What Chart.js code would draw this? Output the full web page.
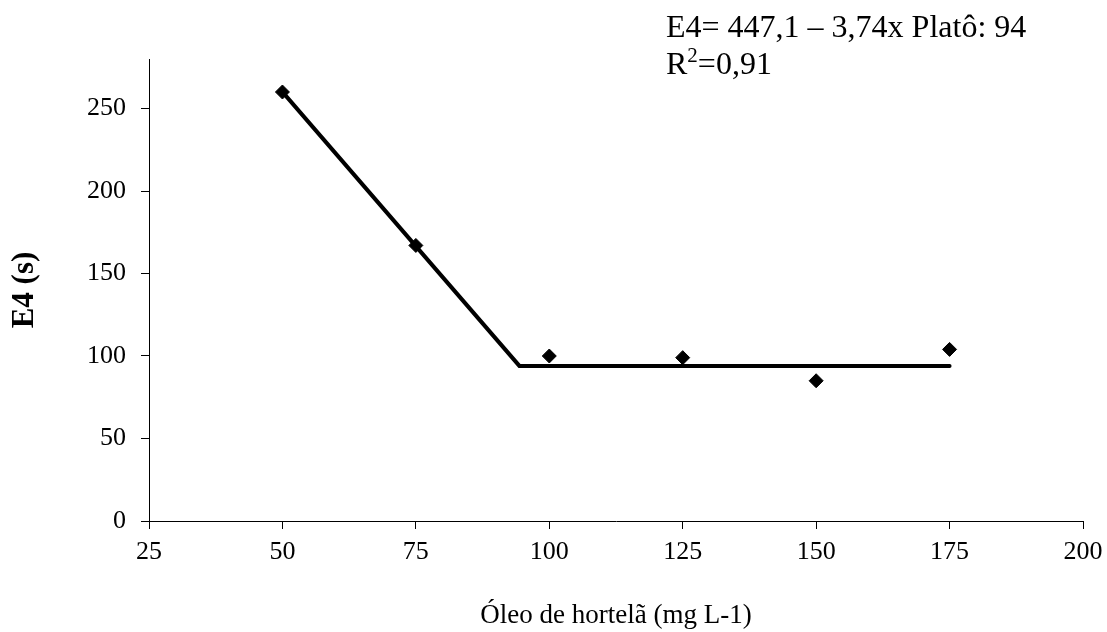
<!DOCTYPE html>
<html>
<head>
<meta charset="utf-8">
<script src="https://cdn.jsdelivr.net/npm/chart.js@4.4.1/dist/chart.umd.min.js"></script>
<style>
  html, body { margin: 0; padding: 0; background: #ffffff; }
  #c { display: block; }
</style>
</head>
<body>
<canvas id="c" width="1107" height="632"></canvas>
<script>
// Observed data (Óleo de hortelã, mg L-1 vs E4, s)
const obsX = [50, 75, 100, 125, 150, 175];
const obsY = [260, 167, 100, 99, 85, 104];
// Fitted linear-plateau model: E4 = 447,1 - 3,74x ; plateau 94
const fitX = [50, 94.4, 175];
const fitY = [260.1, 94, 94];

const xTitle = 'Óleo de hortelã (mg L-1)';
const yTitle = 'E4 (s)';
const eqLine1 = 'E4= 447,1 – 3,74x Platô: 94';
const eqR = 'R';
const eqSup = '2';
const eqRest = '=0,91';

const FONT = '"Liberation Serif", "Times New Roman", Times, serif';
Chart.defaults.font.family = FONT;
Chart.defaults.color = '#000';

const annotationPlugin = {
  id: 'eqText',
  afterDraw(chart) {
    const ctx = chart.ctx;
    ctx.save();
    ctx.fillStyle = '#000';
    ctx.textBaseline = 'alphabetic';
    ctx.textAlign = 'left';
    ctx.font = '32px ' + FONT;
    ctx.fillText(eqLine1, 666, 37);
    let x = 666;
    ctx.fillText(eqR, x, 74);
    x += ctx.measureText(eqR).width;
    ctx.font = '21px ' + FONT;
    ctx.fillText(eqSup, x, 62);
    x += ctx.measureText(eqSup).width;
    ctx.font = '32px ' + FONT;
    ctx.fillText(eqRest, x, 74);
    ctx.restore();
  }
};

new Chart(document.getElementById('c'), {
  type: 'scatter',
  data: {
    datasets: [
      {
        type: 'line',
        label: 'Ajuste',
        data: fitX.map((x, i) => ({ x: x, y: fitY[i] })),
        borderColor: '#000',
        borderWidth: 4,
        borderCapStyle: 'round',
        borderJoinStyle: 'miter',
        pointRadius: 0,
        fill: false,
        tension: 0,
        order: 2
      },
      {
        label: 'E4',
        data: obsX.map((x, i) => ({ x: x, y: obsY[i] })),
        pointStyle: 'rectRot',
        pointRadius: 7,
        pointBackgroundColor: '#000',
        pointBorderColor: '#000',
        pointBorderWidth: 1,
        showLine: false,
        order: 1
      }
    ]
  },
  options: {
    responsive: false,
    animation: false,
    devicePixelRatio: 1,
    layout: { padding: { top: 59, right: 24, left: 0, bottom: 0 } },
    plugins: {
      legend: { display: false },
      tooltip: { enabled: false }
    },
    scales: {
      x: {
        type: 'linear',
        min: 25,
        max: 200,
        ticks: { stepSize: 25, padding: 8, font: { size: 26 }, color: '#000' },
        grid: { drawOnChartArea: false, drawTicks: true, tickLength: 8, color: '#000' },
        border: { display: true, color: '#000', width: 1 },
        title: { display: true, text: xTitle, font: { size: 27 }, color: '#000', padding: { top: 0, bottom: 0 } },
        afterFit(scale) { scale.height = 111; scale.paddingLeft = 0; scale.paddingRight = 0; }
      },
      y: {
        type: 'linear',
        min: 0,
        max: 280,
        ticks: { stepSize: 50, includeBounds: false, padding: 15, font: { size: 26 }, color: '#000' },
        grid: { drawOnChartArea: false, drawTicks: true, tickLength: 8, color: '#000' },
        border: { display: true, color: '#000', width: 1 },
        title: { display: true, text: yTitle, font: { size: 31, weight: 'bold' }, color: '#000', padding: { top: 6, bottom: 0 } },
        afterFit(scale) { scale.width = 149; scale.paddingTop = 0; scale.paddingBottom = 0; }
      }
    }
  },
  plugins: [annotationPlugin]
});
</script>
</body>
</html>
